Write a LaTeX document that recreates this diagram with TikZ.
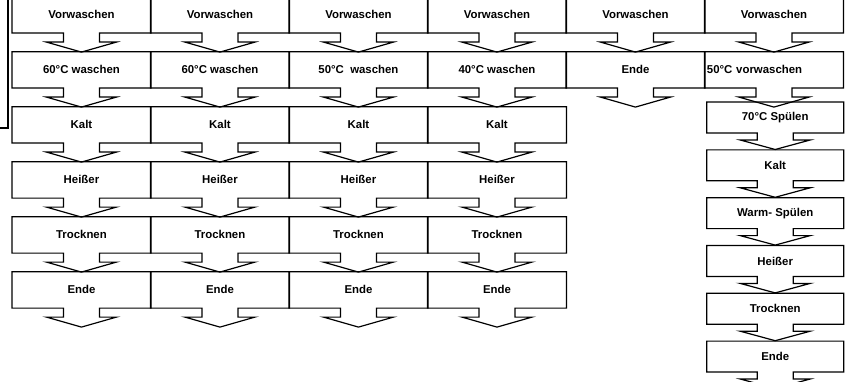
\documentclass[tikz,border=0pt]{standalone}
\usepackage{fontspec}
\setmainfont{Liberation Sans}
\usetikzlibrary{matrix}
\usetikzlibrary{positioning}
\usetikzlibrary{calc}
\tikzset{flow board/.style={
          matrix of nodes,
          inner sep=0pt,
          row sep={55pt, between origins},
          column sep={138.5pt, between origins},
          nodes={anchor=center, inner sep=0pt, minimum width=138.5pt, minimum height=36pt, font=\bfseries\fontsize{11.4}{13}\selectfont}
          },
        rinse board/.style={
          flow board,
          row sep={47.8pt, between origins},
          nodes={minimum width=136.6pt, minimum height=30.5pt}
          },
        outline/.style={line width=1.2pt, line join=miter},
}
% box with a down arrow under it: node, stem depth, tip depth
\newcommand{\callout}[3]{%
  \draw[outline] (#1.south west) -- (#1.north west) -- (#1.north east) -- (#1.south east)
    -- ($(#1.south)+(18,0)$) -- ++(0,-#2) -- ++(17,0) -- ($(#1.south)+(0,-#3)$)
    -- ($(#1.south)+(-35,-#2)$) -- ++(17,0) -- ($(#1.south)+(-18,0)$) -- cycle;}

\begin{document}
\begin{tikzpicture}[x=1pt, y=1pt]
      \useasboundingbox (0,0) rectangle (845,-382);
      % WASH PROGRAMS
      \matrix[flow board, matrix anchor=north west] (wash) at (12,3.3) {
        Vorwaschen   & Vorwaschen   & Vorwaschen       & Vorwaschen   & Vorwaschen & Vorwaschen \\
        60°C waschen & 60°C waschen & 50°C\ \ waschen & 40°C waschen & Ende       & |[text width=134pt, align=left]| 50°C vorwaschen \\
        Kalt         & Kalt         & Kalt             & Kalt         \\
        Heißer       & Heißer       & Heißer           & Heißer       \\
        Trocknen     & Trocknen     & Trocknen         & Trocknen     \\
        Ende         & Ende         & Ende             & Ende         \\
        };

      % RINSE PROGRAM
      \matrix[rinse board, matrix anchor=north west] (rinse) at ($(wash-2-6.south west)+(2.2,-14)$) {
        70°C Spülen \\
        Kalt \\
        Warm- Spülen \\
        Heißer \\
        Trocknen \\
        Ende \\
        };

      % OUTLINES
      \foreach \r in {1,...,6}{
        \foreach \c in {1,...,4}{\callout{wash-\r-\c}{9}{19}}
      }
      \foreach \c in {5,6}{
        \callout{wash-1-\c}{9}{19}
        \callout{wash-2-\c}{9}{19}
      }
      \foreach \r in {1,...,6}{\callout{rinse-\r-1}{7}{16.5}}

      % left edge
      \coordinate (edge) at (0,-128);
      \draw[outline] ([xshift=-4pt]wash-1-1.north west) |- (edge);
\end{tikzpicture}
\end{document}
